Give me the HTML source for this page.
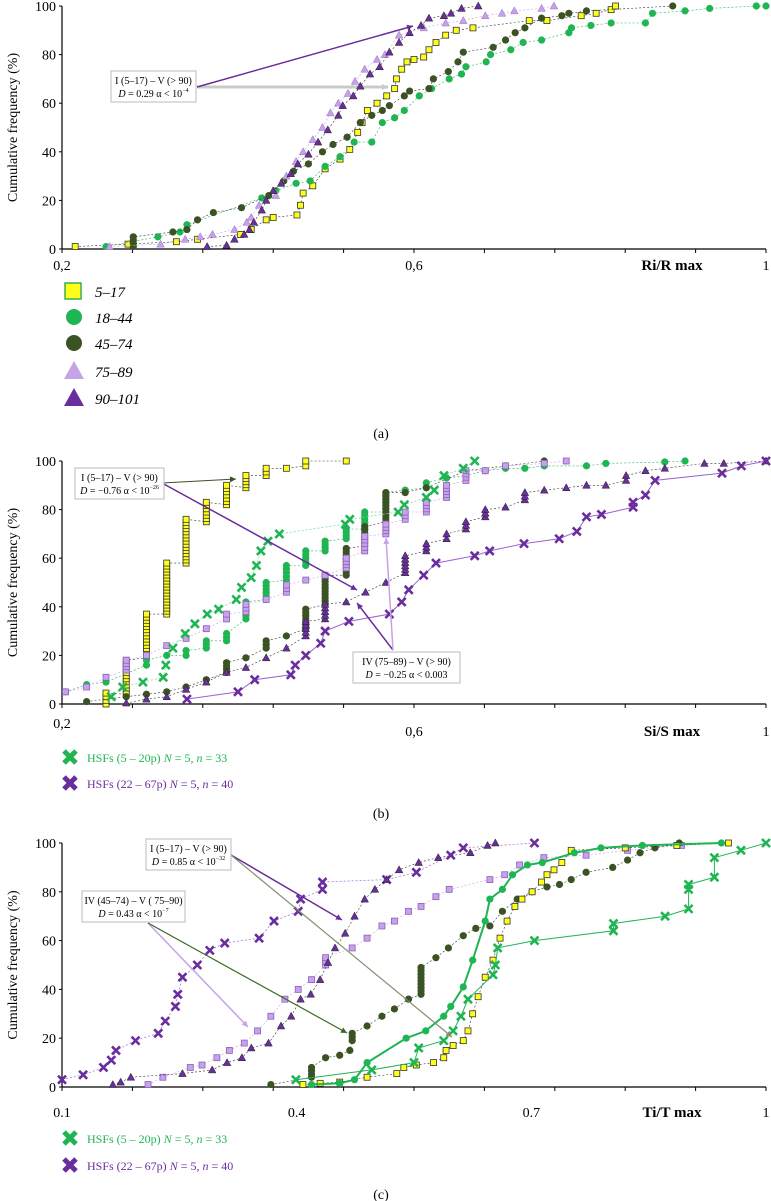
<!DOCTYPE html>
<html><head><meta charset="utf-8"><style>
body{margin:0;background:#fff}
svg{display:block;font-family:"Liberation Serif",serif}
</style></head><body>
<svg id="fig" width="771" height="1201" viewBox="0 0 771 1201" xmlns="http://www.w3.org/2000/svg"></svg>
<script>
// ---------- Panel (a) data: Ri/R max ----------
const aYellowX=[.215,.275,.33,.354,.403,.415,.432,.44,.467,.471,.474,.485,.499,.516,.527,.536,.541,.547,.558,.569,.578,.58,.586,.592,.6,.611,.617,.625,.636,.648,.667,.731,.751,.79,.807,.824,.829];
const aYellowY=[1,2,3,4,6,8,12,13,14,18,23,26,33,37,41,48,52,57,60,63,66,70,74,77,78,79,82,85,88,90,91,94,94,96,97,98.5,100];
const aGreenX=[.25,.309,.334,.342,.427,.443,.466,.482,.499,.516,.532,.552,.564,.578,.589,.606,.62,.64,.654,.659,.682,.687,.71,.724,.745,.776,.779,.801,.824,.863,.871,.908,.936,.989,1];
const aGreenY=[1,5,7,10,21,24,27,28,34,38,44,44,52,54,57,63,66,70,72,75,77,80,82,85,86,89,91,92,93,93,97,98,99,100,100];
const aDkGreenX=[.281,.281,.326,.342,.354,.372,.404,.435,.452,.463,.48,.496,.508,.524,.539,.552,.564,.572,.589,.595,.617,.622,.639,.65,.656,.69,.704,.715,.726,.745,.768,.776,.796,.894];
const aDkGreenY=[1,5,7,8,12,15,17,22,28,32,35,40,43,46,52,55,57,59,63,65,66,70,73,77,81,83,86,89,91,95,96,97,98,100];
const aLtPurpleX=[.254,.312,.34,.357,.371,.396,.41,.415,.424,.443,.455,.466,.474,.485,.496,.505,.514,.525,.533,.544,.558,.567,.583,.611,.636,.656,.681,.7,.714,.745,.759];
const aLtPurpleY=[1,2,4,5,6,8,11,13,18,22,30,36,40,45,50,56,60,64,69,74,78,80,88,91,93,94,96,97,98,99,100];
const aDkPurpleX=[.365,.387,.396,.407,.413,.418,.427,.432,.44,.449,.46,.468,.48,.491,.502,.514,.519,.531,.539,.55,.561,.572,.583,.595,.608,.617,.634,.642,.654,.673];
const aDkPurpleY=[1,1.5,4,6,8,11,16,20,24,27,31,35,39,44,49,55,59,63,67,72,75,81,85,89,92,95,96,97,99,100];
// ---------- Panel (b) data: Si/S max ----------
const bYellowX=[.25,.25,.273,.273,.296,.296,.319,.319,.341,.341,.364,.364,.387,.387,.409,.409,.432,.432,.455,.477,.477,.523];
const bYellowY=[0,4.5,4,18,19,37,37,58,58,76,75,83,82,90,89,94,94,97,97,98,100,100];
const bGreenX=[.204,.228,.25,.296,.296,.319,.341,.341,.364,.364,.387,.387,.409,.409,.432,.432,.455,.455,.477,.477,.499,.499,.523,.523,.544,.544,.568,.568,.59,.614,.614,.637,.659,.681,.704,.726,.748,.796,.818,.885,.908];
const bGreenY=[5,8,9,16,18,20,20,22,23,26,26,29,35,42,43,50,51,57,57,63,63,67,68,72,72,79,79,87,88,89,91,93,94,96,97,97,98,98,99,99.6,100];
const bDkGreenX=[.228,.273,.296,.319,.341,.364,.387,.387,.409,.432,.432,.455,.477,.477,.499,.499,.523,.523,.544,.544,.568,.568,.59,.614,.659,.704,.748];
const bDkGreenY=[1,3,4,5,7,10,13,17,19,23,26,28,31,39,41,53,53,64,65,73,75,87,87,89,96,98,100];
const bLtPurpleX=[.204,.228,.25,.273,.273,.296,.319,.341,.364,.387,.387,.409,.409,.432,.455,.455,.477,.499,.523,.523,.544,.544,.568,.568,.59,.59,.614,.614,.637,.637,.659,.659,.681,.704,.748,.773];
const bLtPurpleY=[5,7,11,14,18,20,24,27,31,35,37,38,41,43,46,49,51,53,56,60,63,69,70,74,76,79,79,83,85,90,92,96,96,98,99,100];
const bDkPurpleX=[.273,.296,.319,.341,.364,.387,.409,.432,.455,.477,.477,.499,.499,.523,.545,.568,.59,.59,.614,.614,.637,.637,.659,.659,.681,.681,.704,.726,.726,.748,.773,.796,.818,.841,.841,.863,.885,.93,.952,1];
const bDkPurpleY=[0.4,2,3,6,9,13,15,19,23,28,34,35,41,42,46,50,54,61,63,66,68,70,72,75,77,80,81,84,87,88,89,90,90,92,94,96,97,99,99,100];
const bHsfGreenX=[.256,.269,.292,.315,.318,.326,.34,.351,.365,.378,.398,.404,.415,.421,.426,.434,.447,.522,.527,.582,.589,.614,.623,.634,.656,.669];
const bHsfGreenY=[3,7,9,11,16,23,29,33,37,39,43,48,52,57,63,67,70,74,76,79,82,85,88,94,97,100];
const bHsfPurpleX=[.342,.4,.419,.46,.465,.477,.494,.499,.526,.572,.586,.594,.611,.625,.669,.686,.725,.765,.785,.796,.813,.849,.849,.863,.874,.95,.972,1];
const bHsfPurpleY=[2,5,10,12,16,20,25,30,34,37,42,47,53,58,61,63,66,68,71,77,78,81,83,86,92,95,98,100];
// ---------- Panel (c) data: Ti/T max ----------
const cYellowX=[.408,.43,.455,.49,.528,.537,.553,.575,.588,.591,.6,.613,.619,.625,.632,.641,.651,.66,.669,.679,.688,.701,.713,.72,.729,.739,.751,.82,.886,.952];
const cYellowY=[1,1.5,2,4,5.5,8,9,10,12,15,17,19,23,30,37,45,52,61,68,74,77,80,84,87,89,92,97,98,99,100];
const cGreenX=[.419,.455,.474,.49,.54,.565,.588,.597,.613,.625,.641,.647,.663,.676,.695,.714,.755,.789,.842,.943];
const cGreenY=[1,1.5,3,10,20,23,29,33,41,52,68,77,81,87,91,92,96,98,99,100];
const cDkGreenX=[.367,.419,.419,.437,.455,.468,.471,.471,.49,.509,.525,.543,.559,.559,.578,.594,.613,.629,.647,.663,.682,.701,.72,.736,.751,.77,.804,.823,.839,.858,.889];
const cDkGreenY=[1,4,8,12,13,15,19,22,25,29,32,36,38,49,53,57,62,65,66,72,77,80,82,83,85,88,90,93,96,98,100];
const cLtPurpleX=[.21,.229,.264,.279,.298,.314,.333,.35,.367,.385,.402,.419,.437,.437,.471,.49,.509,.525,.543,.559,.578,.595,.647,.666,.685,.716,.77,.823,.892];
const cLtPurpleY=[1,4,8,9,12,15,18,23,29,36,40,44,50,53,57,61,66,68,72,74,78,81,85,87,91,94,95,97,99];
const cDkPurpleX=[.165,.175,.188,.254,.292,.311,.33,.342,.364,.38,.393,.405,.418,.43,.44,.449,.462,.474,.487,.5,.515,.531,.556,.581,.622,.644,.654];
const cDkPurpleY=[1,2,4,5.5,7,10,12,16,18,25,29,36,38,44,51,57,63,70,77,81,85,89,92,94,96,99,100];
const cHsfPurpleX=[.127,.153,.163,.169,.194,.223,.232,.245,.248,.254,.273,.289,.308,.352,.371,.402,.405,.433,.433,.515,.553,.597,.613,.704];
const cHsfPurpleY=[5,8,11,15,19,22,27,33,38,45,50,56,59,61,68,72,77,81,84,85,88,95,98,100];
const cHsfGreenX=[.399,.496,.55,.556,.588,.6,.61,.619,.651,.654,.657,.704,.805,.805,.871,.901,.901,.901,.934,.934,.968,1];
const cHsfGreenY=[3,7,10,16,19,23,29,36,46,50,57,60,64,67,70,73,81,83,86,94,97,100];

const YELLOW="#ffff1a",GREEN="#1fb553",DKGREEN="#3b5324",LTPURPLE="#c6a2e8",DKPURPLE="#6a2d9e";
const NS="http://www.w3.org/2000/svg";
const svg=document.getElementById('fig');
function el(tag,attrs,parent){const e=document.createElementNS(NS,tag);for(const k in attrs)e.setAttribute(k,attrs[k]);(parent||svg).appendChild(e);return e;}
function txt(s,x,y,attrs,parent){const t=el('text',Object.assign({x:x,y:y},attrs||{}),parent);t.textContent=s;return t;}

function makePanel(P){
  const g=el('g',{});
  
  
  const sx=v=>P.x0+(v-P.xmin)/(P.xmax-P.xmin)*(P.x1-P.x0);
  const sy=v=>P.y0+(v/100)*(P.y100-P.y0);
  P.sx=sx;P.sy=sy;P.g=g;
  const xa=el('line',{x1:P.x0,y1:P.y0,x2:P.x1,y2:P.y0,stroke:'#000','stroke-width':1.2},g);
  
  
  const ya=el('line',{x1:P.x0,y1:P.y0,x2:P.x0,y2:P.y100,stroke:'#000','stroke-width':1.2},g);
  
  
  for(let i=0;i<=10;i++){const v=P.xmin+i*(P.xmax-P.xmin)/10;el('line',{x1:sx(v),y1:P.y0,x2:sx(v),y2:P.y0+4,stroke:'#000','stroke-width':1},g);}
  P.yTicks.forEach(v=>{
    el('line',{x1:P.x0-3,y1:sy(v),x2:P.x0,y2:sy(v),stroke:'#000','stroke-width':1},g);
    const t=txt(String(v),P.x0-6,sy(v)+5,{'text-anchor':'end','font-size':14},g);
    
    
  });
  P.xLabels.forEach((s,i)=>{
    const t=txt(s,sx(P.xLabelVals[i]),P.xLabelY[i],{'text-anchor':'middle','font-size':14},g);
    
    
  });
  const xt=txt(P.xTitle,672,P.xTitleY,{'text-anchor':'middle','font-size':15,'font-weight':'bold'},g);
  
  
  const yt=txt('Cumulative frequency (%)',0,0,{'text-anchor':'middle','font-size':14,transform:`translate(17,${(P.y0+P.y100)/2}) rotate(-90)`},g);
  
  
  return P;
}

function marker(g,type,x,y,color){
  if(type==='sq')return el('rect',{x:x-3,y:y-3,width:6,height:6,fill:color,stroke:color===LTPURPLE?'#8e5fc0':'#333','stroke-width':0.8},g);
  if(type==='ci')return el('ellipse',{cx:x,cy:y,rx:3.6,ry:3.6,fill:color},g);
  if(type==='tri')return el('path',{d:`M${x},${y-4}L${x+3.8},${y+3}L${x-3.8},${y+3}Z`,fill:color,stroke:color==LTPURPLE?'#9a6fc4':'#222','stroke-width':0.5},g);
  if(type==='x'){const s=el('g',{},g);el('path',{d:`M${x-4},${y-4}L${x+4},${y+4}M${x+4},${y-4}L${x-4},${y+4}`,stroke:color,'stroke-width':2.6,fill:'none'},s);return s;}
}

function series(P,name,xs,ys,type,color,lineColor,lineW,dash){
  const g=el('g',{},P.g);
  
  
  const pts=xs.map((v,i)=>P.sx(v).toFixed(1)+','+P.sy(ys[i]).toFixed(1)).join(' ');
  el('polyline',{points:pts,fill:'none',stroke:lineColor,'stroke-width':lineW,'stroke-dasharray':dash||'none'},g);
  for(let i=0;i<xs.length;i++){
    if(i>0&&xs[i]===xs[i-1]&&type!=='x'){
      const ya=P.sy(ys[i-1]),yb=P.sy(ys[i]);
      const n=Math.floor(Math.abs(yb-ya)/3);
      for(let k=1;k<n;k++){const m=marker(g,type,P.sx(xs[i]),ya+(yb-ya)*k/n,color);}
    }
    const m=marker(g,type,P.sx(xs[i]),P.sy(ys[i]),color);
    
    
  }
}

function arrow(g,x1,y1,x2,y2,color,w,name){
  const a=el('g',{},g);
  
  
  el('line',{x1:x1,y1:y1,x2:x2,y2:y2,stroke:color,'stroke-width':w},a);
  const ang=Math.atan2(y2-y1,x2-x1),L=6,W=3;
  const bx=x2-L*Math.cos(ang),by=y2-L*Math.sin(ang);
  el('path',{d:`M${x2},${y2}L${bx+W*Math.sin(ang)},${by-W*Math.cos(ang)}L${bx-W*Math.sin(ang)},${by+W*Math.cos(ang)}Z`,fill:color},a);
}
function box(g,x,y,w,h,l1,l2,name){
  const b=el('g',{},g);
  
  
  el('rect',{x:x,y:y,width:w,height:h,fill:'#fff',stroke:'#bbb','stroke-width':1},b);
  txt(l1,x+w/2,y+13,{'text-anchor':'middle','font-size':10},b);
  const t=txt('',x+w/2,y+26,{'text-anchor':'middle','font-size':10},b);
  t.innerHTML=l2;
}

// ---- Panel a ----
const A=makePanel({name:'panel-a',x0:62,x1:766,xmin:0.2,xmax:1,y0:249,y100:6,yTicks:[0,20,40,60,80,100],
  xLabels:['0,2','0,6','1'],xLabelVals:[0.2,0.6,1],xLabelY:[270,270,270],xTitle:'Ri/R max',xTitleY:270});
arrow(A.g,197,87,388,87,'#c8ccc4',3,'annotation-arrow-gray');
arrow(A.g,197,87,413,26,'#6a2d9e',1.5,'annotation-arrow-purple');
series(A,'series-5-17',aYellowX,aYellowY,'sq',YELLOW,'#333',0.6,'2,2');
series(A,'series-18-44',aGreenX,aGreenY,'ci',GREEN,GREEN,0.6,'2,2');
series(A,'series-45-74',aDkGreenX,aDkGreenY,'ci',DKGREEN,'#333',0.6,'2,2');
series(A,'series-75-89',aLtPurpleX,aLtPurpleY,'tri',LTPURPLE,LTPURPLE,0.6,'2,2');
series(A,'series-90-101',aDkPurpleX,aDkPurpleY,'tri',DKPURPLE,'#333',0.6,'2,2');
box(A.g,111,71,85,31,'I (5–17) – V (> 90)','<tspan font-style="italic">D</tspan> = 0.29 α &lt; 10<tspan font-size="6" dy="-5">−4</tspan>','annotation-box-a');

const la=el('g',{});


const legA=[['5–17','sq',YELLOW],['18–44','ci',GREEN],['45–74','ci',DKGREEN],['75–89','tri',LTPURPLE],['90–101','tri',DKPURPLE]];
const legAY=[291,317,343,371,398];
legA.forEach((d,i)=>{
  const e=el('g',{},la);
  
  
  const y=legAY[i];
  if(d[1]==='sq')el('rect',{x:65,y:y-8,width:16,height:16,fill:YELLOW,stroke:'#35b050','stroke-width':1.5},e);
  else if(d[1]==='ci')el('circle',{cx:74,cy:y,r:8,fill:d[2]},e);
  else el('path',{d:`M74,${y-10}L84,${y+8}L64,${y+8}Z`,fill:d[2]},e);
  txt(d[0],95,y+6,{'font-size':15,'font-style':'italic'},e);
});
const capA=txt('(a)',381,438,{'text-anchor':'middle','font-size':14});



// ---- Panel b ----
const B=makePanel({name:'panel-b',x0:62,x1:766,xmin:0.2,xmax:1,y0:704,y100:461,yTicks:[0,20,40,60,80,100],
  xLabels:['0,2','0,6','1'],xLabelVals:[0.2,0.6,1],xLabelY:[728,736,736],xTitle:'Si/S max',xTitleY:736});
series(B,'series-5-17',bYellowX,bYellowY,'sq',YELLOW,'#333',0.6,'2,2');
series(B,'series-18-44',bGreenX,bGreenY,'ci',GREEN,GREEN,0.6,'2,2');
series(B,'series-45-74',bDkGreenX,bDkGreenY,'ci',DKGREEN,'#333',0.6,'2,2');
series(B,'series-75-89',bLtPurpleX,bLtPurpleY,'sq',LTPURPLE,LTPURPLE,0.6,'2,2');
series(B,'series-90-101',bDkPurpleX,bDkPurpleY,'tri',DKPURPLE,'#333',0.6,'2,2');
series(B,'series-hsf-5-20p',bHsfGreenX,bHsfGreenY,'x',GREEN,'#7fd89a',0.8,'2,2');
series(B,'series-hsf-22-67p',bHsfPurpleX,bHsfPurpleY,'x',DKPURPLE,'#9b63d0',1,'none');
arrow(B.g,162,483,236,479,'#3b5324',1,'annotation-arrow-green');
arrow(B.g,162,483,357,590,DKPURPLE,1.5,'annotation-arrow-purple');
arrow(B.g,393,650,357,603,DKPURPLE,1.5,'annotation-arrow-purple-2');
arrow(B.g,393,650,386,538,LTPURPLE,1.5,'annotation-arrow-lightpurple');
box(B.g,75,468,89,31,'I (5–17) – V (> 90)','<tspan font-style="italic">D</tspan> = −0.76 α &lt; 10<tspan font-size="6" dy="-5">−26</tspan>','annotation-box-b1');
box(B.g,353,652,107,31,'IV (75–89) – V (> 90)','<tspan font-style="italic">D</tspan> = −0.25 α &lt; 0.003','annotation-box-b2');

function hsfLegend(name,ys){
  const lg=el('g',{});
  
  
  [['HSFs (5 – 20p) ',' = 5, ',' = 33',GREEN],['HSFs (22 – 67p) ',' = 5, ',' = 40',DKPURPLE]].forEach((d,i)=>{
    const e=el('g',{},lg);
    
    
    const y=ys[i];
    el('path',{d:`M64,${y-6}L76,${y+6}M76,${y-6}L64,${y+6}`,stroke:d[3],'stroke-width':5},e);
    const t=txt('',87,y+5,{'font-size':12,fill:d[3]},e);
    t.innerHTML=d[0]+'<tspan font-style="italic">N</tspan>'+d[1]+'<tspan font-style="italic">n</tspan>'+d[2];
  });
}
hsfLegend('legend-b',[757,783]);
const capB=txt('(b)',381,818,{'text-anchor':'middle','font-size':14});



// ---- Panel c ----
const C=makePanel({name:'panel-c',x0:62,x1:766,xmin:0.1,xmax:1,y0:1087,y100:843,yTicks:[0,20,40,60,80,100],
  xLabels:['0.1','0.4','0.7','1'],xLabelVals:[0.1,0.4,0.7,1],xLabelY:[1117,1117,1117,1117],xTitle:'Ti/T max',xTitleY:1117});
series(C,'series-hsf-22-67p',[0.1].concat(cHsfPurpleX),[3].concat(cHsfPurpleY),'x',DKPURPLE,'#a77ad6',0.8,'2,2');
series(C,'series-75-89',cLtPurpleX,cLtPurpleY,'sq',LTPURPLE,LTPURPLE,0.6,'2,2');
series(C,'series-90-101',cDkPurpleX,cDkPurpleY,'tri',DKPURPLE,'#333',0.6,'2,2');
series(C,'series-45-74',cDkGreenX,cDkGreenY,'ci',DKGREEN,'#333',0.6,'2,2');
series(C,'series-5-17',cYellowX,cYellowY,'sq',YELLOW,'#333',0.6,'2,2');
series(C,'series-hsf-5-20p',cHsfGreenX,cHsfGreenY,'x',GREEN,GREEN,1,'none');
series(C,'series-18-44',cGreenX,cGreenY,'ci',GREEN,GREEN,2,'none');
arrow(C.g,231,855,342,920,DKPURPLE,1.5,'annotation-arrow-purple');
arrow(C.g,231,855,452,1037,'#7f8f70',1.2,'annotation-arrow-gray');
arrow(C.g,148,923,248,1027,LTPURPLE,1.5,'annotation-arrow-lightpurple');
arrow(C.g,148,923,347,1033,'#3b6a24',1.2,'annotation-arrow-green');
box(C.g,146,839,85,31,'I (5–17) – V (> 90)','<tspan font-style="italic">D</tspan> = 0.85 α &lt; 10<tspan font-size="6" dy="-5">−32</tspan>','annotation-box-c1');
box(C.g,82,891,103,31,'IV (45–74) – V ( 75–90)','<tspan font-style="italic">D</tspan> = 0.43 α &lt; 10<tspan font-size="6" dy="-5">−7</tspan>','annotation-box-c2');
hsfLegend('legend-c',[1138,1165]);
const capC=txt('(c)',381,1199,{'text-anchor':'middle','font-size':14});


</script>
</body></html>
